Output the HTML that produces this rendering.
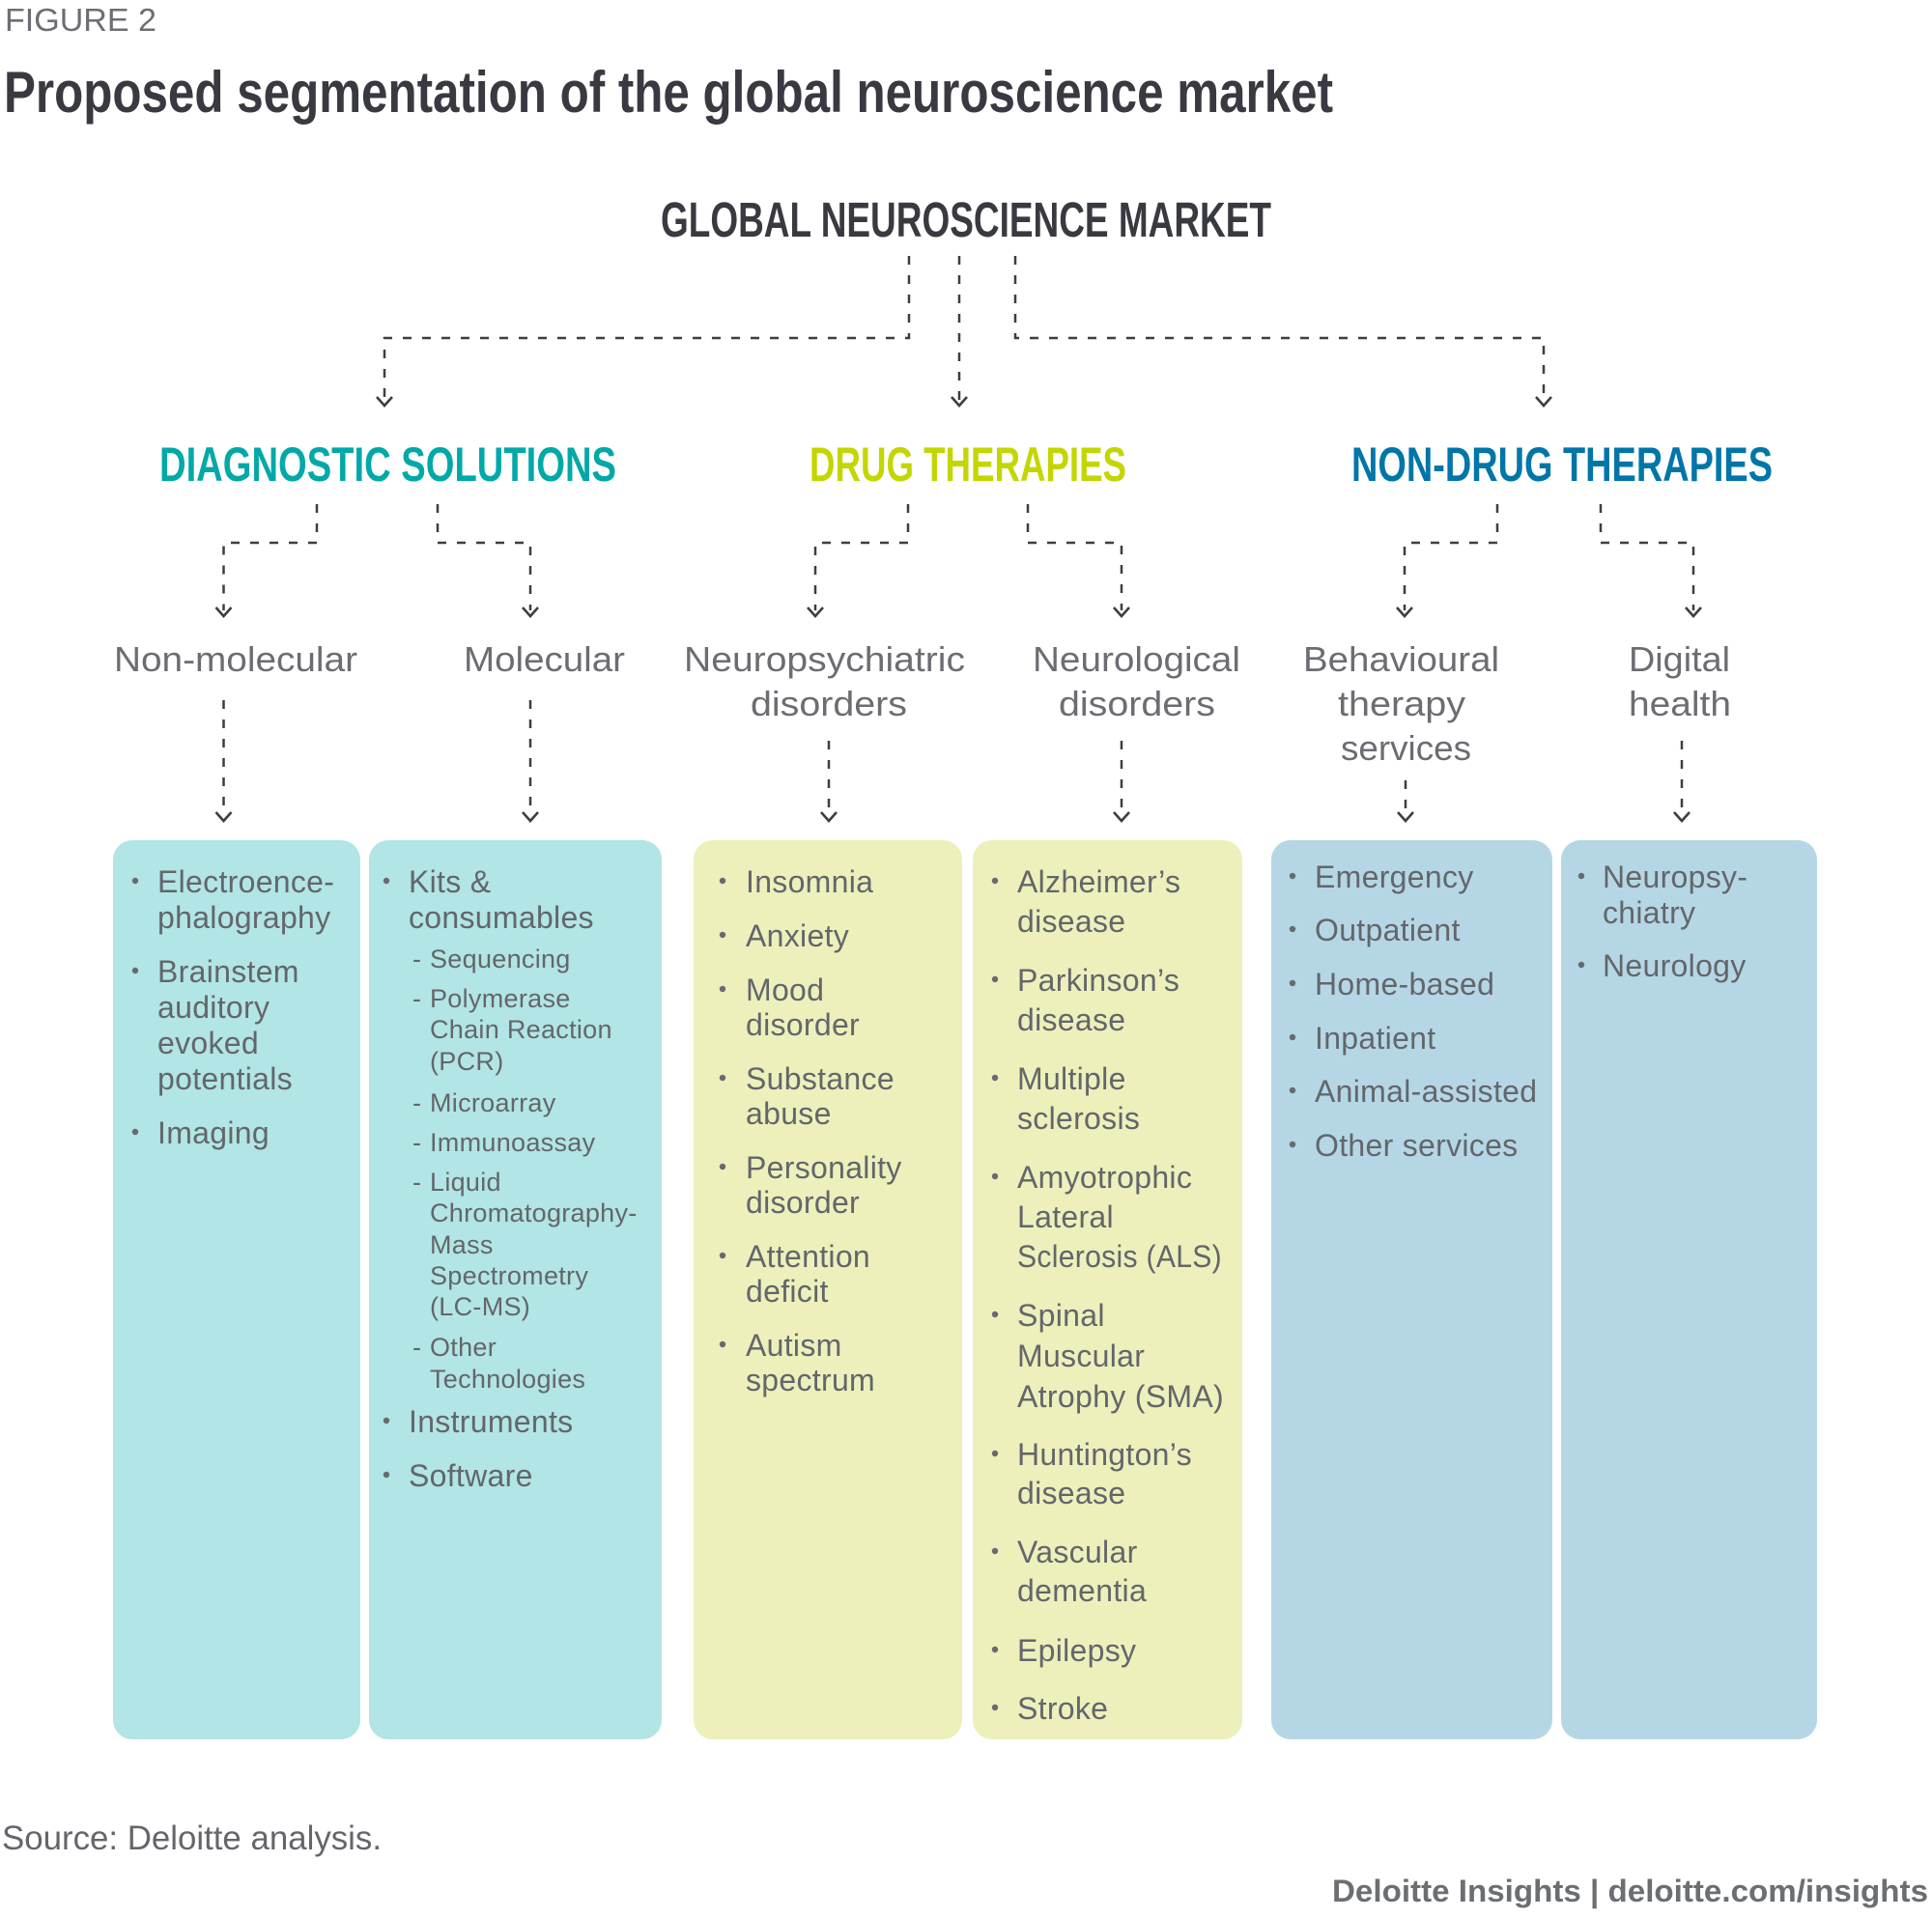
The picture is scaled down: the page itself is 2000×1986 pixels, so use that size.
<!DOCTYPE html>
<html>
<head>
<meta charset="utf-8">
<style>
  html,body{margin:0;padding:0;background:#ffffff;}
  svg{display:block;}
  .t{font-family:"Liberation Sans",Arial,sans-serif;}
</style>
</head>
<body>
<svg width="2000" height="1986" viewBox="0 0 2000 1986" xmlns="http://www.w3.org/2000/svg">
  <rect x="0" y="0" width="2000" height="1986" fill="#ffffff"/>

  <!-- Header -->
  <text class="t" x="5" y="32" font-size="33" fill="#6d6e73" textLength="157" lengthAdjust="spacingAndGlyphs">FIGURE 2</text>
  <text class="t" x="4" y="116" font-size="60" font-weight="bold" fill="#393a41" textLength="1376" lengthAdjust="spacingAndGlyphs">Proposed segmentation of the global neuroscience market</text>

  <text class="t" x="684" y="245" font-size="51" font-weight="bold" fill="#393a41" textLength="632" lengthAdjust="spacingAndGlyphs">GLOBAL NEUROSCIENCE MARKET</text>

  <!-- Boxes -->
  <rect x="117" y="870" width="256" height="931" rx="20" ry="20" fill="#b2e5e5"/>
  <rect x="382" y="870" width="303" height="931" rx="20" ry="20" fill="#b2e5e5"/>
  <rect x="718" y="870" width="278" height="931" rx="20" ry="20" fill="#edf0bb"/>
  <rect x="1007" y="870" width="279" height="931" rx="20" ry="20" fill="#edf0bb"/>
  <rect x="1316" y="870" width="291" height="931" rx="20" ry="20" fill="#b5d7e5"/>
  <rect x="1616" y="870" width="265" height="931" rx="20" ry="20" fill="#b5d7e5"/>

  <!-- Dashed connectors -->
  <g fill="none" stroke="#3d3e45" stroke-width="2.5" stroke-dasharray="9 11">
    <path d="M941,265 V350 H398 V414"/>
    <path d="M993,265 V414"/>
    <path d="M1051,265 V350 H1598 V414"/>

    <path d="M328,522 V562 H231.5 V632"/>
    <path d="M453,522 V562 H549 V632"/>
    <path d="M940,522 V562 H844 V632"/>
    <path d="M1064,522 V562 H1161 V632"/>
    <path d="M1550,522 V562 H1454 V632"/>
    <path d="M1657,522 V562 H1753 V632"/>

    <path d="M231.5,725 V844"/>
    <path d="M549,725 V844"/>
    <path d="M858,767 V844"/>
    <path d="M1161,767 V844"/>
    <path d="M1455,808 V844"/>
    <path d="M1741,767 V844"/>
  </g>

  <!-- Arrow heads -->
  <g fill="none" stroke="#3d3e45" stroke-width="2.6" stroke-linejoin="miter">
    <polyline points="390,411 398,420 406,411"/>
    <polyline points="985,411 993,420 1001,411"/>
    <polyline points="1590,411 1598,420 1606,411"/>

    <polyline points="223.5,629 231.5,638 239.5,629"/>
    <polyline points="541,629 549,638 557,629"/>
    <polyline points="836,629 844,638 852,629"/>
    <polyline points="1153,629 1161,638 1169,629"/>
    <polyline points="1446,629 1454,638 1462,629"/>
    <polyline points="1745,629 1753,638 1761,629"/>

    <polyline points="223.5,841 231.5,850 239.5,841"/>
    <polyline points="541,841 549,850 557,841"/>
    <polyline points="850,841 858,850 866,841"/>
    <polyline points="1153,841 1161,850 1169,841"/>
    <polyline points="1447,841 1455,850 1463,841"/>
    <polyline points="1733,841 1741,850 1749,841"/>
  </g>

  <!-- Level 1 headings -->
  <g class="t" font-size="50" font-weight="bold">
    <text x="165" y="498" fill="#00a9a8" textLength="473" lengthAdjust="spacingAndGlyphs">DIAGNOSTIC SOLUTIONS</text>
    <text x="838" y="498" fill="#c4d600" textLength="328" lengthAdjust="spacingAndGlyphs">DRUG THERAPIES</text>
    <text x="1399" y="498" fill="#0076a8" textLength="436" lengthAdjust="spacingAndGlyphs">NON-DRUG THERAPIES</text>
  </g>

  <!-- Level 2 labels -->
  <g class="t" font-size="36" fill="#6b6d72">
    <text x="118" y="695" textLength="252" lengthAdjust="spacingAndGlyphs">Non-molecular</text>
    <text x="480" y="695" textLength="167" lengthAdjust="spacingAndGlyphs">Molecular</text>
    <text x="708" y="695" textLength="291" lengthAdjust="spacingAndGlyphs">Neuropsychiatric</text>
    <text x="777" y="741" textLength="162" lengthAdjust="spacingAndGlyphs">disorders</text>
    <text x="1069" y="695" textLength="215" lengthAdjust="spacingAndGlyphs">Neurological</text>
    <text x="1096" y="741" textLength="162" lengthAdjust="spacingAndGlyphs">disorders</text>
    <text x="1349" y="695" textLength="203" lengthAdjust="spacingAndGlyphs">Behavioural</text>
    <text x="1385" y="741" textLength="132" lengthAdjust="spacingAndGlyphs">therapy</text>
    <text x="1388" y="787" textLength="135" lengthAdjust="spacingAndGlyphs">services</text>
    <text x="1686" y="695" textLength="105" lengthAdjust="spacingAndGlyphs">Digital</text>
    <text x="1686" y="741" textLength="106" lengthAdjust="spacingAndGlyphs">health</text>
  </g>

  <!-- Bullets -->
  <g fill="#676a70">
    <!-- box1 -->
    <circle cx="140" cy="912" r="3.2"/>
    <circle cx="140" cy="1005" r="3.2"/>
    <circle cx="140" cy="1172" r="3.2"/>
    <!-- box2 -->
    <circle cx="400" cy="912" r="3.2"/>
    <circle cx="400" cy="1471" r="3.2"/>
    <circle cx="400" cy="1527" r="3.2"/>
    <!-- box3 -->
    <circle cx="748" cy="912" r="3.2"/>
    <circle cx="748" cy="968" r="3.2"/>
    <circle cx="748" cy="1024" r="3.2"/>
    <circle cx="748" cy="1116" r="3.2"/>
    <circle cx="748" cy="1208" r="3.2"/>
    <circle cx="748" cy="1300" r="3.2"/>
    <circle cx="748" cy="1392" r="3.2"/>
    <!-- box4 -->
    <circle cx="1030" cy="912" r="3.2"/>
    <circle cx="1030" cy="1014" r="3.2"/>
    <circle cx="1030" cy="1116" r="3.2"/>
    <circle cx="1030" cy="1218" r="3.2"/>
    <circle cx="1030" cy="1361" r="3.2"/>
    <circle cx="1030" cy="1505" r="3.2"/>
    <circle cx="1030" cy="1606" r="3.2"/>
    <circle cx="1030" cy="1708" r="3.2"/>
    <circle cx="1030" cy="1768" r="3.2"/>
    <!-- box5 -->
    <circle cx="1338" cy="907" r="3.2"/>
    <circle cx="1338" cy="962" r="3.2"/>
    <circle cx="1338" cy="1018" r="3.2"/>
    <circle cx="1338" cy="1074" r="3.2"/>
    <circle cx="1338" cy="1129" r="3.2"/>
    <circle cx="1338" cy="1185" r="3.2"/>
    <!-- box6 -->
    <circle cx="1637" cy="907" r="3.2"/>
    <circle cx="1637" cy="999" r="3.2"/>
  </g>

  <!-- Box texts -->
  <g class="t" font-size="32" fill="#63666b" letter-spacing="0.3">
    <!-- box1 -->
    <text x="163" y="924">Electroence-</text>
    <text x="163" y="961">phalography</text>
    <text x="163" y="1017">Brainstem</text>
    <text x="163" y="1054">auditory</text>
    <text x="163" y="1091">evoked</text>
    <text x="163" y="1128">potentials</text>
    <text x="163" y="1184">Imaging</text>
    <!-- box2 -->
    <text x="423" y="924">Kits &amp;</text>
    <text x="423" y="961">consumables</text>
    <text x="423" y="1483">Instruments</text>
    <text x="423" y="1539">Software</text>
    <!-- box3 -->
    <text x="772" y="924">Insomnia</text>
    <text x="772" y="980">Anxiety</text>
    <text x="772" y="1036">Mood</text>
    <text x="772" y="1072">disorder</text>
    <text x="772" y="1128">Substance</text>
    <text x="772" y="1164">abuse</text>
    <text x="772" y="1220">Personality</text>
    <text x="772" y="1256">disorder</text>
    <text x="772" y="1312">Attention</text>
    <text x="772" y="1348">deficit</text>
    <text x="772" y="1404">Autism</text>
    <text x="772" y="1440">spectrum</text>
    <!-- box4 -->
    <text x="1053" y="924">Alzheimer’s</text>
    <text x="1053" y="965">disease</text>
    <text x="1053" y="1026">Parkinson’s</text>
    <text x="1053" y="1067">disease</text>
    <text x="1053" y="1128">Multiple</text>
    <text x="1053" y="1169">sclerosis</text>
    <text x="1053" y="1230">Amyotrophic</text>
    <text x="1053" y="1271">Lateral</text>
    <text x="1053" y="1312" textLength="212" lengthAdjust="spacingAndGlyphs">Sclerosis (ALS)</text>
    <text x="1053" y="1373">Spinal</text>
    <text x="1053" y="1415">Muscular</text>
    <text x="1053" y="1457" textLength="214" lengthAdjust="spacingAndGlyphs">Atrophy (SMA)</text>
    <text x="1053" y="1517">Huntington’s</text>
    <text x="1053" y="1557">disease</text>
    <text x="1053" y="1618">Vascular</text>
    <text x="1053" y="1658">dementia</text>
    <text x="1053" y="1720">Epilepsy</text>
    <text x="1053" y="1780">Stroke</text>
    <!-- box5 -->
    <text x="1361" y="919">Emergency</text>
    <text x="1361" y="974">Outpatient</text>
    <text x="1361" y="1030">Home-based</text>
    <text x="1361" y="1086">Inpatient</text>
    <text x="1361" y="1141">Animal-assisted</text>
    <text x="1361" y="1197">Other services</text>
    <!-- box6 -->
    <text x="1659" y="919">Neuropsy-</text>
    <text x="1659" y="956">chiatry</text>
    <text x="1659" y="1011">Neurology</text>
  </g>

  <!-- Box2 sub-items -->
  <g class="t" font-size="27" fill="#63666b" letter-spacing="0.3">
    <text x="427" y="1002">-</text><text x="445" y="1002">Sequencing</text>
    <text x="427" y="1043">-</text><text x="445" y="1043">Polymerase</text>
    <text x="445" y="1075">Chain Reaction</text>
    <text x="445" y="1108">(PCR)</text>
    <text x="427" y="1151">-</text><text x="445" y="1151">Microarray</text>
    <text x="427" y="1192">-</text><text x="445" y="1192">Immunoassay</text>
    <text x="427" y="1233">-</text><text x="445" y="1233">Liquid</text>
    <text x="445" y="1265">Chromatography-</text>
    <text x="445" y="1298">Mass</text>
    <text x="445" y="1330">Spectrometry</text>
    <text x="445" y="1362">(LC-MS)</text>
    <text x="427" y="1404">-</text><text x="445" y="1404">Other</text>
    <text x="445" y="1437">Technologies</text>
  </g>

  <!-- Footer -->
  <text class="t" x="2" y="1915" font-size="35" fill="#63666b" textLength="393" lengthAdjust="spacingAndGlyphs">Source: Deloitte analysis.</text>
  <text class="t" x="1379" y="1969" font-size="32" font-weight="bold" fill="#6b6e72" textLength="617" lengthAdjust="spacingAndGlyphs">Deloitte Insights | deloitte.com/insights</text>
</svg>
</body>
</html>
